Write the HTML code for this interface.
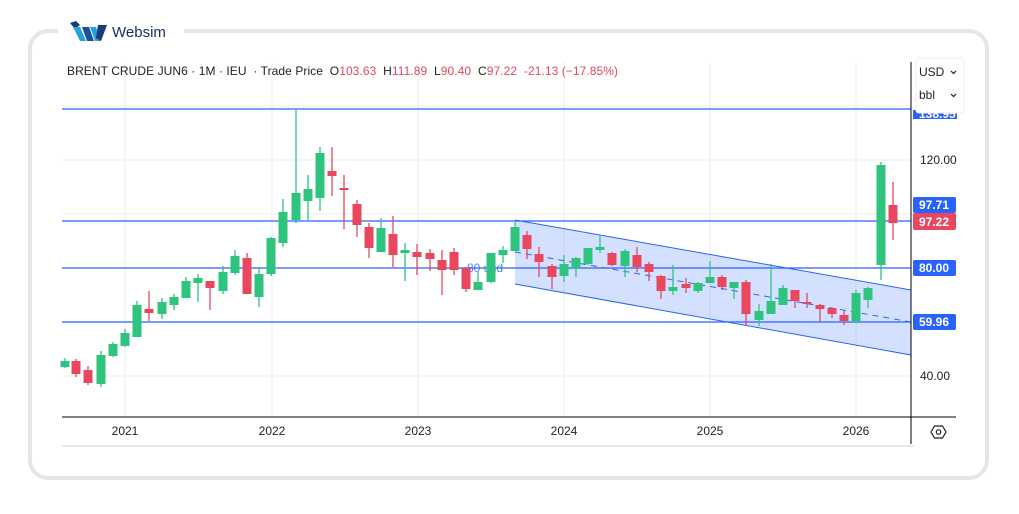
<!DOCTYPE html>
<html><head><meta charset="utf-8"><style>
body{margin:0;background:#fff;width:1019px;height:509px;overflow:hidden;font-family:"Liberation Sans",sans-serif}
svg text{font-family:"Liberation Sans",sans-serif;white-space:pre}
</style></head><body>
<svg id="s" width="1019" height="509" xmlns="http://www.w3.org/2000/svg" xml:space="preserve">
<rect x="30" y="31" width="957" height="447" rx="18" fill="#fff" stroke="#e6e6e6" stroke-width="4"/>
<rect x="58" y="16" width="126" height="30" fill="#fff"/>
<path d="M70 23 L76 21 L80 25 L75 29 Z" fill="#1a3a7a"/>
<path d="M73 27 L80 27 L86 41 L80 41 Z" fill="#2a9fd8"/>
<path d="M82 27 L89 27 L94 41 L87 41 Z" fill="#1e4fa0"/>
<path d="M90 27 L96 27 L101 41 L95 41 Z" fill="#2a9fd8"/>
<path d="M98 25 L107 25 L101 41 L96 38 Z" fill="#1a3a7a"/>
<text x="112" y="37" font-size="15" fill="#1a2f6a">Websim</text>
<g stroke="#eeeeee" stroke-width="1">
<line x1="62" y1="106" x2="911" y2="106"/><line x1="62" y1="160" x2="911" y2="160"/><line x1="62" y1="214" x2="911" y2="214"/><line x1="62" y1="268" x2="911" y2="268"/><line x1="62" y1="322" x2="911" y2="322"/><line x1="62" y1="376" x2="911" y2="376"/>
<line x1="125" y1="62" x2="125" y2="416"/><line x1="272" y1="62" x2="272" y2="416"/><line x1="418" y1="62" x2="418" y2="416"/><line x1="564" y1="62" x2="564" y2="416"/><line x1="710" y1="62" x2="710" y2="416"/><line x1="856" y1="62" x2="856" y2="416"/>
</g>
<text x="67" y="75" font-size="12" fill="#222" textLength="551">BRENT CRUDE JUN6 · 1M · IEU  · Trade Price  O<tspan fill="#e8475f">103.63</tspan>  H<tspan fill="#e8475f">111.89</tspan>  L<tspan fill="#e8475f">90.40</tspan>  C<tspan fill="#e8475f">97.22  -21.13 (−17.85%)</tspan></text>
<polygon points="515,220 911,290 911,355 515,284" fill="rgba(41,98,255,0.2)"/>
<line x1="515" y1="220" x2="911" y2="290" stroke="#2962ff" stroke-width="1"/>
<line x1="515" y1="284" x2="911" y2="355" stroke="#2962ff" stroke-width="1"/>
<line x1="515" y1="252" x2="911" y2="322" stroke="#2962ff" stroke-width="1" stroke-dasharray="6,5"/>
<g stroke="#2962ff" stroke-width="1.2">
<line x1="62" y1="109" x2="911" y2="109"/><line x1="62" y1="221" x2="911" y2="221"/><line x1="62" y1="268" x2="911" y2="268"/><line x1="62" y1="322" x2="911" y2="322"/>
</g>
<text x="467" y="272" font-size="12" fill="#2962ff" opacity="0.8">80 usd</text>
<g id="c"></g>
<line x1="911" y1="62" x2="911" y2="444" stroke="#000" stroke-width="1"/>
<line x1="62" y1="417" x2="956" y2="417" stroke="#000" stroke-width="1"/>
<line x1="62" y1="446" x2="914" y2="446" stroke="#d0d0d0" stroke-width="1"/>
<g font-size="12" fill="#222" text-anchor="middle">
<text x="125" y="435">2021</text><text x="272" y="435">2022</text><text x="418" y="435">2023</text><text x="564" y="435">2024</text><text x="710" y="435">2025</text><text x="856" y="435">2026</text>
</g>
<g font-size="12" fill="#222"><text x="920" y="164">120.00</text><text x="920" y="380">40.00</text></g>
<rect x="913" y="110" width="44" height="9" fill="#2962ff"/>
<text x="919" y="118" font-size="12" fill="#fff" font-weight="bold">138.95</text>
<rect x="913" y="197" width="43" height="16" rx="2" fill="#2962ff"/>
<rect x="913" y="213" width="43" height="17" rx="2" fill="#e8475f"/>
<rect x="913" y="260" width="43" height="16" rx="2" fill="#2962ff"/>
<rect x="913" y="314" width="43" height="16" rx="2" fill="#2962ff"/>
<g font-size="12" fill="#fff" font-weight="bold"><text x="919" y="209">97.71</text><text x="919" y="226">97.22</text><text x="919" y="272">80.00</text><text x="919" y="326">59.96</text></g>
<rect x="916" y="58" width="48" height="55" rx="3" fill="#fff" stroke="#eee"/>
<g font-size="12" fill="#222"><text x="919" y="76">USD</text><text x="919" y="99">bbl</text></g>
<path d="M951 71 l2.5 2.5 l2.5 -2.5 M951 94 l2.5 2.5 l2.5 -2.5" stroke="#222" fill="none" stroke-width="1.2"/>
<polygon points="931,432 934.5,426 942.5,426 946,432 942.5,438 934.5,438" fill="none" stroke="#222" stroke-width="1.2"/>
<circle cx="938.5" cy="432" r="2.2" fill="none" stroke="#222" stroke-width="1.2"/>
</svg>
<script>
var d=[[65,367,361,358,368],[76,361,374,359,377],[88,370,383,366,385],[101,384,355,351,387],[113,356,344,342,357],[125,346,333,329,347],[137,337,305,301,337],[149,309,313,291,321],[162,314,302,298,319],[174,305,297,294,310],[186,298,281,277,298],[198,283,278,274,302],[210,281,288,281,310],[223,291,272,266,294],[235,273,256,250,275],[247,258,294,253,294],[259,297,274,268,307],[271,274,238,237,276],[283,243,212,199,247],[296,220,193,109,223],[308,201,189,175,221],[320,198,153,147,211],[332,171,176,147,196],[344,188,190,175,229],[357,204,225,200,237],[369,227,248,223,258],[381,252,228,218,252],[393,234,255,216,267],[405,253,250,243,281],[417,252,257,244,275],[430,253,259,249,271],[442,260,270,250,295],[454,252,270,248,275],[466,268,289,267,292],[478,290,282,272,290],[491,282,253,253,283],[503,255,250,246,263],[515,251,227,220,251],[527,235,249,231,259],[539,254,262,247,277],[552,266,277,264,289],[564,276,264,255,282],[576,268,258,257,277],[588,264,248,248,265],[600,250,247,235,253],[612,253,265,252,266],[625,266,251,249,277],[637,255,267,247,272],[649,264,272,262,281],[661,276,291,275,299],[673,291,287,265,295],[686,284,288,278,293],[698,291,283,282,293],[710,283,277,261,283],[722,277,287,275,290],[734,288,282,282,299],[746,282,314,280,326],[759,320,311,304,326],[771,314,301,264,314],[783,305,288,285,305],[795,290,301,290,308],[807,302,304,293,308],[820,305,309,304,322],[832,308,314,308,318],[844,315,321,311,325],[856,321,293,290,323],[868,300,288,287,308],[881,265,165,162,280],[893,205,223,182,240]];
var g=document.getElementById('c'),h='';
d.forEach(function(c){var up=c[2]<c[1],col=up?'#2ec47e':'#e8475f';var t=Math.min(c[1],c[2]),b=Math.max(c[1],c[2]);if(b-t<2)b=t+2;
h+='<line x1="'+c[0]+'" y1="'+c[3]+'" x2="'+c[0]+'" y2="'+c[4]+'" stroke="'+col+'" stroke-width="1.3"/><rect x="'+(c[0]-4.5)+'" y="'+t+'" width="9" height="'+(b-t)+'" fill="'+col+'"/>';});
g.innerHTML=h;
</script>
</body></html>
